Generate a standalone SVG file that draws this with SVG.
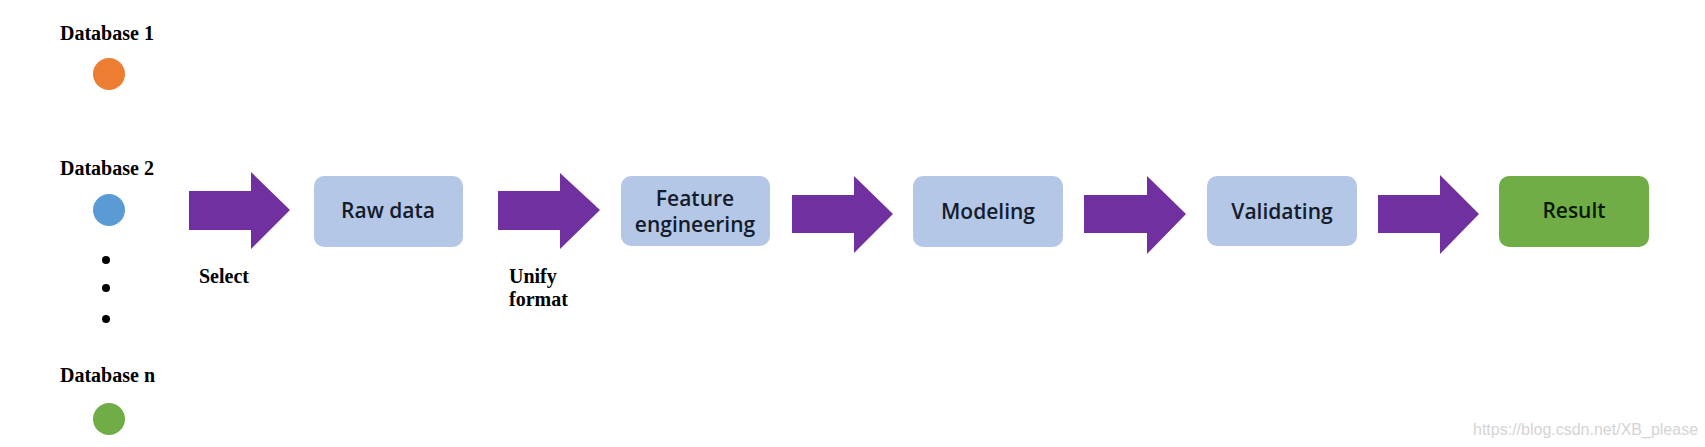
<svg xmlns="http://www.w3.org/2000/svg" width="1705" height="447" viewBox="0 0 1705 447">
<style>
.db{font-family:"Liberation Serif","Times New Roman",serif;font-weight:bold;font-size:20px;fill:#000}
.lbl{font-family:"Liberation Serif","Times New Roman",serif;font-weight:bold;font-size:20px;fill:#000}
.box{fill:#b4c7e7}
.res{fill:#70ad47}
.bt{font-family:"Open Sans","Noto Sans",sans-serif;font-weight:600;font-size:21px;fill:#141c2c;text-anchor:middle}
.arr{fill:#7030a0}
.wm{font-family:"Liberation Sans",Arial,sans-serif;font-size:16px;fill:#d4d4d4}
</style>
<rect width="1705" height="447" fill="#fff"/>
<g id="db1"><text class="db" x="60" y="40">Database 1</text><circle cx="109" cy="74" r="16" fill="#ed7d31"/></g>
<g id="db2"><text class="db" x="60" y="175">Database 2</text><circle cx="109" cy="210" r="16" fill="#5b9bd5"/></g>
<g id="dots"><circle cx="106" cy="260" r="4" fill="#000"/><circle cx="106" cy="288" r="4" fill="#000"/><circle cx="106" cy="319" r="4" fill="#000"/></g>
<g id="dbn"><text class="db" x="60" y="382">Database n</text><circle cx="109" cy="419" r="16" fill="#70ad47"/></g>
<g id="raw"><rect class="box" x="314" y="176" width="149" height="71" rx="10"/><text class="bt" x="388" y="218">Raw data</text></g>
<g id="feat"><rect class="box" x="621" y="176" width="149" height="70" rx="10"/><text class="bt" x="695" y="206">Feature</text><text class="bt" x="695" y="232">engineering</text></g>
<g id="model"><rect class="box" x="913" y="176" width="150" height="71" rx="10"/><text class="bt" x="988" y="219">Modeling</text></g>
<g id="valid"><rect class="box" x="1207" y="176" width="150" height="70" rx="10"/><text class="bt" x="1282" y="219">Validating</text></g>
<g id="result"><rect class="res" x="1499" y="176" width="150" height="71" rx="10"/><text class="bt" x="1574" y="218" style="fill:#0b1a06">Result</text></g>
<g id="connectors">
<polygon class="arr" points="189,191 251,191 251,172 290,210 251,249 251,230 189,230"/>
<polygon class="arr" points="498,191 560,191 560,173 600,210 560,249 560,230 498,230"/>
<polygon class="arr" points="792,195 854,195 854,176 893,214 854,253 854,233 792,233"/>
<polygon class="arr" points="1084,195 1147,195 1147,176 1186,214 1147,254 1147,233 1084,233"/>
<polygon class="arr" points="1378,195 1440,195 1440,175 1479,214 1440,254 1440,233 1378,233"/>
<text class="lbl" x="199" y="283">Select</text>
<text class="lbl" x="509" y="283">Unify</text>
<text class="lbl" x="509" y="306">format</text>
</g>
<text class="wm" x="1473" y="435">https://blog.csdn.net/XB_please</text>
</svg>
